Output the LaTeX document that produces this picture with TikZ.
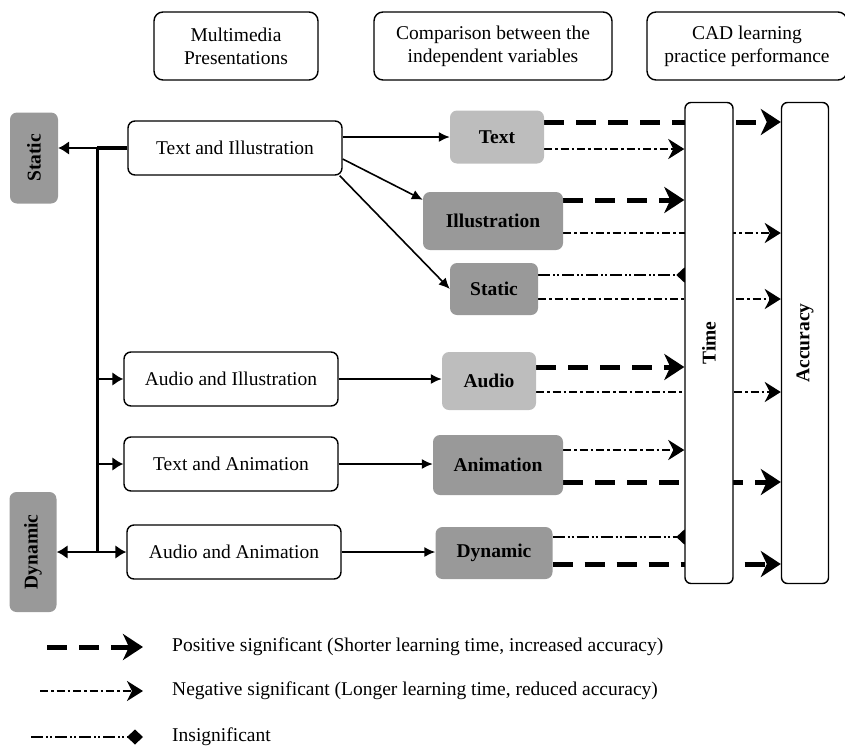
\documentclass[tikz,border=0pt]{standalone}
\usepackage{fontspec}
\setmainfont{Liberation Serif}
\usepackage{graphicx}
\usetikzlibrary{arrows.meta,backgrounds}
\definecolor{lightbox}{gray}{0.74}
\definecolor{darkbox}{gray}{0.6}

\begin{document}
\begin{tikzpicture}[x=1pt,y=-1pt,
  every node/.style={font=\fontsize{19.5}{23}\selectfont,inner sep=2pt},
  head/.style={draw,line width=1.4pt,rounded corners=9pt,fill=white,align=center,minimum height=68pt},
  pres/.style={draw,line width=1.4pt,rounded corners=7pt,fill=white,minimum width=214pt,minimum height=54pt},
  var/.style={rounded corners=7pt,font=\fontsize{19.5}{23}\selectfont\bfseries},
  measure/.style={draw,line width=1.4pt,rounded corners=6pt,fill=white,minimum height=481pt,font=\fontsize{19.5}{23}\selectfont\bfseries},
  conn/.style={line width=1.6pt,-{Latex[length=11pt,width=10pt]}},
  branch/.style={line width=2.6pt,-{Latex[length=11pt,width=14pt]}},
  posline/.style={line width=5pt,dash pattern=on 20pt off 12pt,-{Stealth[length=20pt,width=26pt,inset=6pt]}},
  negline/.style={line width=2.6pt,dash pattern=on 8pt off 3pt on 2.5pt off 3pt,-{Stealth[length=16pt,width=20pt,inset=5pt]}},
  insline/.style={line width=2.6pt,dash pattern=on 12pt off 3pt on 2pt off 2pt on 2pt off 3pt,-{Diamond[length=16pt,width=15pt]}}]
\useasboundingbox (0,0) rectangle (845,747);

\node[head,minimum width=164pt] (hpres) at (236,46) {Multimedia\\Presentations};
\node[head,minimum width=238pt] (hcomp) at (493,46) {Comparison between the\\independent variables};
\node[head,minimum width=200pt] (hcad) at (747,46) {CAD learning\\practice performance};

\node[var,fill=darkbox,minimum width=48pt,minimum height=91pt] (lstatic) at (34,158) {\rotatebox{90}{Static}};
\node[var,fill=darkbox,minimum width=47pt,minimum height=120pt] (ldyn) at (33,552) {\rotatebox{90}{Dynamic}};

\node[pres] (ti) at (235,148) {Text and Illustration};
\node[pres] (ai) at (231,379) {Audio and Illustration};
\node[pres] (ta) at (231,464) {Text and Animation};
\node[pres] (aa) at (234,552) {Audio and Animation};

\node[var,fill=lightbox,minimum width=94pt,minimum height=53pt] (vtext) at (497,137) {Text};
\node[var,fill=darkbox,minimum width=140pt,minimum height=58pt] (vill) at (493,221) {Illustration};
\node[var,fill=darkbox,minimum width=88pt,minimum height=52pt] (vstatic) at (494,289) {Static};
\node[var,fill=lightbox,minimum width=94pt,minimum height=58pt] (vaudio) at (489,381) {Audio};
\node[var,fill=darkbox,minimum width=130pt,minimum height=60pt] (vanim) at (498,465) {Animation};
\node[var,fill=darkbox,minimum width=117pt,minimum height=52pt] (vdyn) at (494,553) {Dynamic};

\node[measure,minimum width=48pt] (time) at (709,343) {\rotatebox{90}{Time}};
\node[measure,minimum width=47pt] (acc) at (805,343) {\rotatebox{90}{Accuracy}};

\coordinate (top) at (97,148);
\coordinate (bot) at (97,552);
\draw[line width=3pt] (top) -- (bot);
\draw[line width=3.5pt] (ti.west) -- (top);
\draw[branch] (top) -- (top -| lstatic.east);
\draw[branch] (top |- ai.west) -- (ai.west);
\draw[branch] (top |- ta.west) -- (ta.west);
\draw[branch] (bot) -- (aa.west);
\draw[branch] (bot) -- (ldyn.east);

\draw[conn] (ti.east |- vtext) -- (vtext.west);
\draw[conn] ([yshift=-11pt]ti.east) -- ([yshift=-8pt]vill.north west);
\draw[conn] ([xshift=-3pt]ti.south east) -- (vstatic.west);
\draw[conn] (ai.east) -- (ai.east -| vaudio.west);
\draw[conn] (ta.east) -- (ta.east -| vanim.west);
\draw[conn] (aa.east) -- (aa.east -| vdyn.west);

\begin{pgfonlayer}{background}
\draw[posline] (vtext.east |- 0,122) -- (acc.west |- 0,122);
\draw[negline] (vtext.east |- 0,149) -- (time.west |- 0,149);
\draw[posline] (vill.east |- 0,200) -- (time.west |- 0,200);
\draw[negline] (vill.east |- 0,233) -- (acc.west |- 0,233);
\draw[insline,shorten >=-8pt] (vstatic.east |- 0,275) -- (time.west |- 0,275);
\draw[negline] (vstatic.east |- 0,299) -- (acc.west |- 0,299);
\draw[posline] (vaudio.east |- 0,367) -- (time.west |- 0,367);
\draw[negline] (vaudio.east |- 0,392) -- (acc.west |- 0,392);
\draw[negline] (vanim.east |- 0,450) -- (time.west |- 0,450);
\draw[posline] (vanim.east |- 0,482) -- (acc.west |- 0,482);
\draw[insline,shorten >=-8pt] (vdyn.east |- 0,537) -- (time.west |- 0,537);
\draw[posline] (vdyn.east |- 0,564) -- (acc.west |- 0,564);
\end{pgfonlayer}

\node[anchor=west] (lpos) at (170,647) {Positive significant (Shorter learning time, increased accuracy)};
\node[anchor=west] (lneg) at (170,691) {Negative significant (Longer learning time, reduced accuracy)};
\node[anchor=west] (lins) at (170,737) {Insignificant};
\coordinate (lpos0) at (47,647);
\coordinate (lneg0) at (40,691);
\coordinate (lins0) at (31,737);
\draw[posline] (lpos0) -- (lpos0 -| 143,0);
\draw[negline] (lneg0) -- (lneg0 -| 143,0);
\draw[insline] (lins0) -- (lins0 -| 143,0);
\end{tikzpicture}
\end{document}
